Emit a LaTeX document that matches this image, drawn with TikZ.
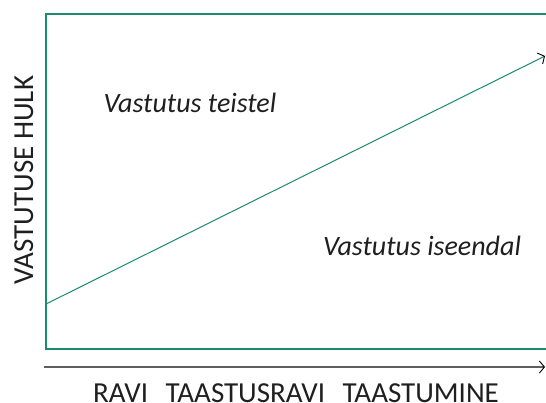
\documentclass[tikz,border=0pt]{standalone}
\usepackage{fontspec}
\setmainfont{Carlito}
\usepackage{tikz}
\usetikzlibrary{arrows.meta,positioning}

\definecolor{framegreen}{RGB}{24,140,108}
\definecolor{axisgray}{RGB}{95,95,95}

\begin{document}
\begin{tikzpicture}[
  x=1pt, y=-1pt,
  frame/.style={draw=framegreen, line width=1.1pt},
  trend/.style={draw=framegreen, line width=1pt},
  axisline/.style={draw=axisgray, line width=1.4pt},
  tip/.style={-{Straight Barb[length=5pt, width=12pt, line width=0.9pt, black]}},
  region/.style={font=\fontsize{28}{31}\selectfont\itshape, text=black!88, inner sep=0pt, anchor=base},
  axislbl/.style={font=\fontsize{29}{32}\selectfont, text=black!88, inner sep=0pt, anchor=base}
]
\useasboundingbox (0,0) rectangle (546,402);

% frame corners
\coordinate (tr) at (546,14);
\coordinate (tl) at (46,14);
\coordinate (bl) at (46,349);
\coordinate (br) at (546,349);

% trend ends
\coordinate (start) at (46,304);
\coordinate (end) at (545,56);

% axis ends
\coordinate (ax0) at (44,367);
\coordinate (ax1) at (545,367);

\draw[frame] (tr) -- (tl) -- (bl) -- (br);
\draw[trend, tip] (start) -- (end);
\draw[axisline, tip] (ax0) -- (ax1);

\node[region] (others) at (190,112) {Vastutus teistel};
\node[region] (self) at (422,255) {Vastutus iseendal};

\node[axislbl, rotate=90] (amount) at (33,180) {VASTUTUSE HULK};
\node[axislbl] (phases) at (296,402) {RAVI\hspace{0.6em}TAASTUSRAVI\hspace{0.6em}TAASTUMINE};

\end{tikzpicture}
\end{document}
